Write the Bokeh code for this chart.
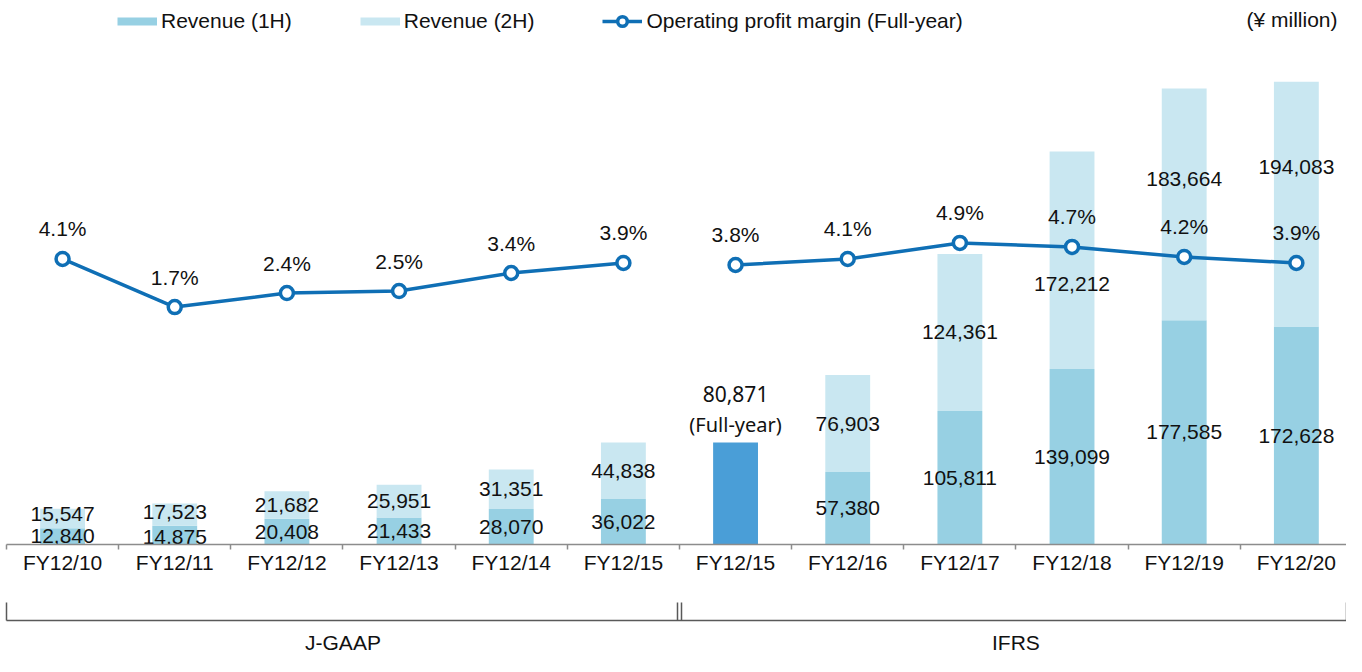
import math
from bokeh.plotting import figure
from bokeh.models import (Range1d, LinearAxis, FixedTicker, ColumnDataSource,
                          Legend, LegendItem, Label)
from bokeh.core.properties import value
from bokeh.embed import file_html
from bokeh.resources import INLINE

# ---------------- data ----------------
categories = ["FY12/10", "FY12/11", "FY12/12", "FY12/13", "FY12/14", "FY12/15",
              "FY12/15", "FY12/16", "FY12/17", "FY12/18", "FY12/19", "FY12/20"]
groups = ["J-GAAP", "IFRS"]
group_sizes = [6, 6]
revenue_1h = [12840, 14875, 20408, 21433, 28070, 36022,
              None, 57380, 105811, 139099, 177585, 172628]
revenue_2h = [15547, 17523, 21682, 25951, 31351, 44838,
              None, 76903, 124361, 172212, 183664, 194083]
revenue_full_year = [None, None, None, None, None, None,
                     80871, None, None, None, None, None]
op_margin = [4.1, 1.7, 2.4, 2.5, 3.4, 3.9,
             3.8, 4.1, 4.9, 4.7, 4.2, 3.9]
unit_text = "(¥ million)"
full_year_note = "(Full-year)"

# ---------------- style ----------------
C_1H = "#97D0E3"
C_2H = "#C9E7F1"
C_FULL = "#4A9ED7"
C_LINE = "#0F6FB5"
TXT = "#111111"
FONT = "Liberation Sans"
FS = "21px"
# label pixel nudges (style only)
dy_1h = [0, 2, 0, 0, 0, 0, 0, 0, 0, 0, 0, 0]
dy_2h = [-4, -3, 0, 0, 0, 0, 0, 0, 0, 24, -25, -37]

n = len(categories)
xs = list(range(n))
nan = float("nan")
def num(v):
    return nan if v is None else v

b1 = [num(v) for v in revenue_1h]
b2 = [num(v) for v in revenue_2h]
tot = [a + b for a, b in zip(b1, b2)]

X_END = 11.447
Y_MAX = 431000
p = figure(width=1346, height=656, x_range=Range1d(-0.5, X_END),
           y_range=Range1d(0, Y_MAX), output_backend="svg",
           toolbar_location=None, x_axis_type=None, y_axis_type=None,
           min_border_left=6, min_border_right=0, min_border_top=0,
           min_border_bottom=0)
p.outline_line_color = None
p.background_fill_color = "white"
p.border_fill_color = "white"
p.extra_y_ranges = {"pct": Range1d(-10.15, 17.0)}

src = ColumnDataSource(dict(
    x=xs, b1=b1, tot=tot,
    c1=[(a / 2) if not math.isnan(a) else nan for a in b1],
    c2=[(a + b / 2) if not math.isnan(a) else nan for a, b in zip(b1, b2)],
    t1=["" if v is None else f"{v:,}" for v in revenue_1h],
    t2=["" if v is None else f"{v:,}" for v in revenue_2h],
    dy1=dy_1h, dy2=dy_2h,
))

r1 = p.vbar(x="x", bottom=0, top="b1", width=0.4, source=src,
            fill_color=C_1H, line_color=None)
r2 = p.vbar(x="x", bottom="b1", top="tot", width=0.4, source=src,
            fill_color=C_2H, line_color=None)

fy_idx = [i for i, v in enumerate(revenue_full_year) if v is not None]
fy_src = ColumnDataSource(dict(
    x=fy_idx, top=[revenue_full_year[i] for i in fy_idx],
    t=[f"{revenue_full_year[i]:,}" for i in fy_idx],
    note=[full_year_note for _ in fy_idx]))
p.vbar(x="x", bottom=0, top="top", width=0.4, source=fy_src,
       fill_color=C_FULL, line_color=None)

common = dict(text_font=value(FONT), text_font_size=FS, text_color=TXT,
              text_align="center", text_baseline="middle")
p.text(x="x", y="c1", text="t1", y_offset="dy1", source=src, **common)
p.text(x="x", y="c2", text="t2", y_offset="dy2", source=src, **common)
p.text(x="x", y="top", text="t", y_offset=-48, source=fy_src,
       text_font=value("Noto Sans"), text_font_size="21px", text_color=TXT,
       text_align="center", text_baseline="middle")
p.text(x="x", y="top", text="note", y_offset=-18, source=fy_src,
       text_font=value("Noto Sans"), text_font_size="20px", text_color=TXT,
       text_align="center", text_baseline="middle")

# margin lines, split by accounting standard
line_renderers = []
start = 0
for g, size in zip(groups, group_sizes):
    s = ColumnDataSource(dict(
        x=xs[start:start + size], y=op_margin[start:start + size],
        t=[f"{v:.1f}%" for v in op_margin[start:start + size]]))
    ln = p.line("x", "y", source=s, y_range_name="pct", line_color=C_LINE,
                line_width=3.5)
    sc = p.scatter("x", "y", source=s, y_range_name="pct", size=13,
                   marker="circle", fill_color="white", line_color=C_LINE,
                   line_width=3.5)
    p.text("x", "y", text="t", source=s, y_range_name="pct", y_offset=-30,
           **common)
    line_renderers.append((ln, sc))
    start += size

# legend swatches (renderers with no drawable points, shown only in the legend)
blank = ColumnDataSource(dict(x=[nan, nan], y=[nan, nan]))
sw1 = p.line("x", "y", source=blank, line_color=C_1H, line_width=8,
             line_cap="butt")
sw2 = p.line("x", "y", source=blank, line_color=C_2H, line_width=8,
             line_cap="butt")

# category axis
ax1 = LinearAxis(
    ticker=FixedTicker(ticks=xs, minor_ticks=[i - 0.5 for i in range(n)]),
    major_label_overrides={i: c for i, c in enumerate(categories)},
    major_tick_in=0, major_tick_out=0, minor_tick_in=0, minor_tick_out=5,
    axis_line_color="#8C8C8C", axis_line_width=1.5,
    minor_tick_line_color="#8C8C8C", minor_tick_line_width=1.5,
    major_label_standoff=1, major_label_text_font=FONT,
    major_label_text_font_size=FS, major_label_text_color=TXT,
    axis_label=" ", axis_label_standoff=19,
    axis_label_text_font_size="20px")
p.add_layout(ax1, "below")

# group bracket axis
centers = []
start = 0
for size in group_sizes:
    centers.append(start + (size - 1) / 2)
    start += size
ax2 = LinearAxis(
    ticker=FixedTicker(ticks=centers,
                       minor_ticks=[-0.499, 5.5 - 0.018, 5.5 + 0.018, 11.444]),
    major_label_overrides={c: g for c, g in zip(centers, groups)},
    major_tick_in=0, major_tick_out=0, minor_tick_in=18, minor_tick_out=0,
    axis_line_color="#595959", axis_line_width=1.5,
    minor_tick_line_color="#595959", minor_tick_line_width=1.5,
    major_label_standoff=10, major_label_text_font=FONT,
    major_label_text_font_size=FS, major_label_text_color=TXT)
p.add_layout(ax2, "below")

legend = Legend(items=[
    LegendItem(label="Revenue (1H)", renderers=[sw1]),
    LegendItem(label="Revenue (2H)", renderers=[sw2]),
    LegendItem(label="Operating profit margin (Full-year)",
               renderers=list(line_renderers[0])),
], location=(111, 511), orientation="horizontal", glyph_width=40,
    glyph_height=24, label_height=24, label_standoff=4, spacing=68,
    padding=0, margin=0,
    border_line_color=None, background_fill_alpha=0,
    label_text_font=FONT, label_text_font_size=FS, label_text_color=TXT)
p.add_layout(legend)

p.add_layout(Label(x=X_END, y=Y_MAX, x_offset=-9, y_offset=-19, text=unit_text,
                   text_align="right", text_baseline="middle",
                   text_font=FONT, text_font_size=FS, text_color=TXT))

open("out.html", "w").write(file_html(p, INLINE))
